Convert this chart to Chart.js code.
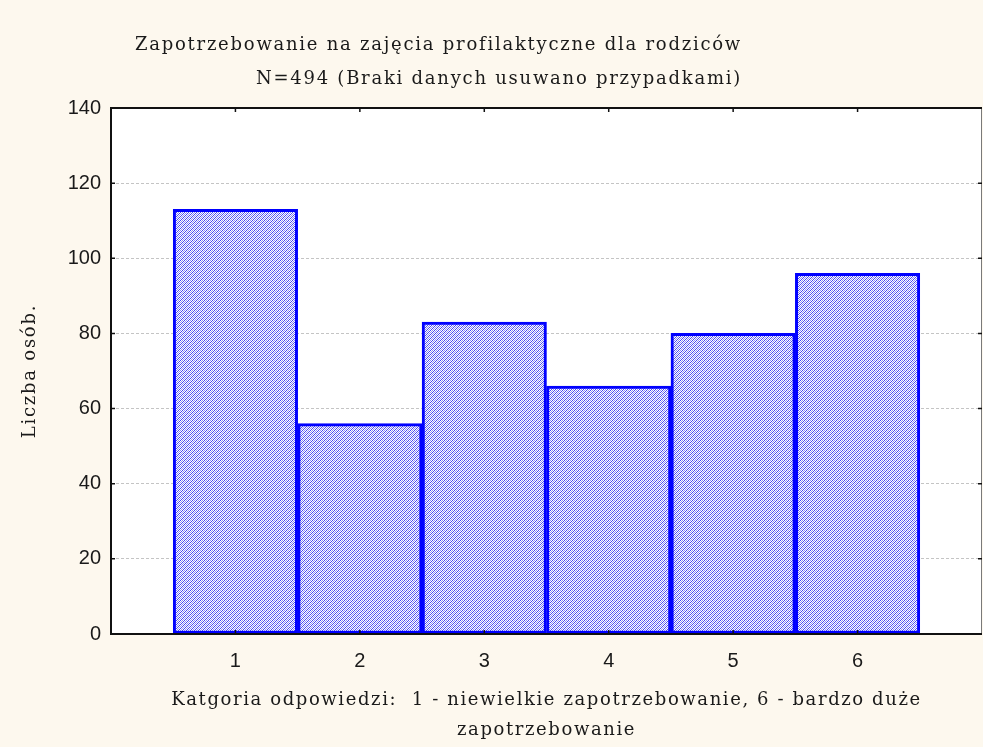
<!DOCTYPE html>
<html lang="pl">
<head>
<meta charset="utf-8">
<title>Zapotrzebowanie na zajęcia profilaktyczne dla rodziców</title>
<script src="https://cdn.jsdelivr.net/npm/chart.js@4.4.1/dist/chart.umd.min.js"></script>
<style>
  html, body { margin: 0; padding: 0; background: #fdf8ee; }
  #box { width: 983px; height: 747px; position: relative; }
</style>
</head>
<body>
<div id="box"><canvas id="histChart"></canvas></div>
<script>
// Dane
const kategorie = [1, 2, 3, 4, 5, 6];
const liczbaOsob = [113, 56, 83, 66, 80, 96];
const yTicki = [0, 20, 40, 60, 80, 100, 120, 140];

const tytul = ['Zapotrzebowanie na zajęcia profilaktyczne dla rodziców',
               'N=494 (Braki danych usuwano przypadkami)'];
const tytulY = 'Liczba osób.';
const tytulX = ['Katgoria odpowiedzi:  1 - niewielkie zapotrzebowanie, 6 - bardzo duże',
                'zapotrzebowanie'];

const SERIF = '"DejaVu Serif", "Liberation Serif", serif';
const SANS = '"Liberation Sans", Arial, sans-serif';

// Wzór wypełnienia słupków (kropkowany niebieski)
function wzorSlupka() {
  const c = document.createElement('canvas');
  c.width = 4; c.height = 4;
  const g = c.getContext('2d');
  g.fillStyle = '#ffffff';
  g.fillRect(0, 0, 4, 4);
  const mapa = [
    'BWLW',
    'WLWB',
    'LWBW',
    'WBWL'
  ];
  mapa.forEach((wiersz, y) => {
    [...wiersz].forEach((p, x) => {
      if (p === 'B') { g.fillStyle = '#4646f2'; g.fillRect(x, y, 1, 1); }
      if (p === 'L') { g.fillStyle = '#8f8ff5'; g.fillRect(x, y, 1, 1); }
    });
  });
  return g.createPattern(c, 'repeat');
}

// Tło płótna + biały obszar wykresu
const tloPlugin = {
  id: 'tlo',
  beforeDraw(chart) {
    const { ctx, chartArea: a } = chart;
    ctx.save();
    ctx.fillStyle = '#fdf8ee';
    ctx.fillRect(0, 0, chart.width, chart.height);
    ctx.fillStyle = '#ffffff';
    ctx.fillRect(a.left, a.top, a.right - a.left, a.bottom - a.top);
    ctx.restore();
  }
};

// Ramka i krótkie znaczniki do środka
const ramkaPlugin = {
  id: 'ramka',
  afterDatasetsDraw(chart) {
    const { ctx, chartArea: a, scales } = chart;
    ctx.save();
    // prawa krawędź - cienka szara
    ctx.strokeStyle = '#7a7a7a';
    ctx.lineWidth = 1;
    ctx.beginPath();
    ctx.moveTo(a.right - 0.5, a.top);
    ctx.lineTo(a.right - 0.5, a.bottom);
    ctx.stroke();
    // góra, lewo, dół - czarne
    ctx.strokeStyle = '#111111';
    ctx.lineWidth = 2;
    ctx.beginPath();
    ctx.moveTo(a.right, a.top);
    ctx.lineTo(a.left, a.top);
    ctx.lineTo(a.left, a.bottom);
    ctx.lineTo(a.right, a.bottom);
    ctx.stroke();
    // znaczniki
    ctx.lineWidth = 1.5;
    const dl = 4;
    kategorie.forEach(k => {
      const x = scales.x.getPixelForValue(k);
      ctx.beginPath();
      ctx.moveTo(x, a.top); ctx.lineTo(x, a.top + dl);
      ctx.moveTo(x, a.bottom); ctx.lineTo(x, a.bottom - dl);
      ctx.stroke();
    });
    yTicki.slice(1, -1).forEach(v => {
      const y = scales.y.getPixelForValue(v);
      ctx.beginPath();
      ctx.moveTo(a.left, y); ctx.lineTo(a.left + dl, y);
      ctx.moveTo(a.right, y); ctx.lineTo(a.right - dl, y);
      ctx.stroke();
    });
    ctx.restore();
  }
};

// Tytuły (szeryfowe, z rozstrzeleniem liter)
const tekstyPlugin = {
  id: 'teksty',
  afterDraw(chart) {
    const { ctx, chartArea: a } = chart;
    ctx.save();
    ctx.fillStyle = '#1a1a1a';
    ctx.font = '18px ' + SERIF;
    ctx.letterSpacing = '1.75px';
    ctx.textBaseline = 'middle';

    ctx.textAlign = 'right';
    ctx.fillText(tytul[0], 742, 45);
    ctx.fillText(tytul[1], 742, 79);

    const srodekX = (a.left + a.right) / 2;
    ctx.textAlign = 'center';
    ctx.letterSpacing = '1.6px';
    ctx.fillText(tytulX[0], srodekX, 700);
    ctx.fillText(tytulX[1], srodekX, 730);

    ctx.letterSpacing = '1.75px';
    ctx.translate(30, (a.top + a.bottom) / 2);
    ctx.rotate(-Math.PI / 2);
    ctx.fillText(tytulY, 0, 0);
    ctx.restore();
  }
};

const ctx = document.getElementById('histChart').getContext('2d');
const wzor = wzorSlupka();

new Chart(ctx, {
  type: 'bar',
  data: {
    datasets: [{
      label: 'Liczba osób',
      data: kategorie.map((k, i) => ({ x: k, y: liczbaOsob[i] })),
      backgroundColor: wzor,
      borderColor: '#0000ff',
      borderWidth: 3,
      borderSkipped: false,
      barPercentage: 1,
      categoryPercentage: 1
    }]
  },
  options: {
    responsive: true,
    maintainAspectRatio: false,
    animation: false,
    layout: { padding: { top: 108, right: 1, left: 0, bottom: 0 } },
    plugins: {
      legend: { display: false },
      title: { display: false },
      tooltip: { enabled: false }
    },
    scales: {
      x: {
        type: 'linear',
        min: 0,
        max: 7,
        offset: false,
        afterFit: s => { s.height = 113; s.paddingLeft = 0; s.paddingRight = 0; },
        grid: { display: false, drawTicks: false },
        border: { display: false },
        ticks: {
          stepSize: 1,
          padding: 15,
          color: '#1a1a1a',
          font: { family: SANS, size: 20 },
          callback: v => (kategorie.includes(v) ? String(v) : '')
        }
      },
      y: {
        min: 0,
        max: 140,
        afterFit: s => { s.width = 111; },
        border: { display: false, dash: [3, 2] },
        grid: {
          drawTicks: false,
          lineWidth: 1,
          color: c => (c.tick && (c.tick.value === 0 || c.tick.value === 140)) ? 'rgba(0,0,0,0)' : '#c4c4c4'
        },
        ticks: {
          stepSize: 20,
          padding: 10,
          color: '#1a1a1a',
          font: { family: SANS, size: 20 }
        }
      }
    }
  },
  plugins: [tloPlugin, ramkaPlugin, tekstyPlugin]
});
</script>
</body>
</html>
